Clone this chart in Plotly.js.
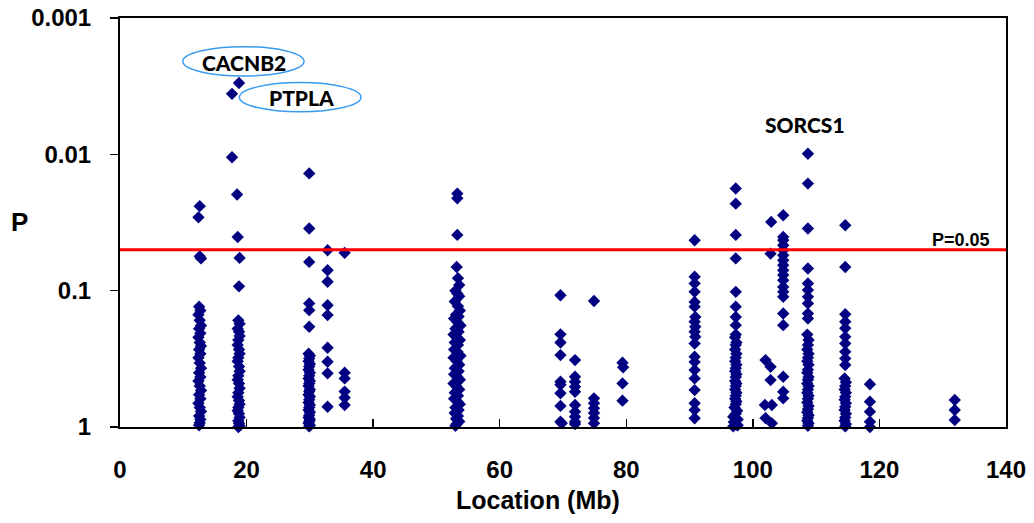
<!DOCTYPE html>
<html>
<head>
<meta charset="utf-8">
<script src="https://cdn.plot.ly/plotly-3.0.1.min.js"></script>
<style>html,body{margin:0;padding:0;background:#fff;}#chart{width:1034px;height:523px;}</style>
</head>
<body>
<div id="chart"></div>
<script>
// ---- Data: location (Mb) and P value per marker, grouped by region ----
const locA = [12.6,12.4,12.6,12.8,12.5,12.7,12.4,12.6,12.8,12.5,12.7,12.4,12.6,12.8,12.5,12.7,12.4,12.6,12.8,12.5,12.7,12.4,12.6,12.8,12.5,12.7,12.4,12.6,12.8,12.5,12.7,12.6,12.5];
const pA   = [0.024,0.029,0.056,0.058,0.131,0.14,0.15,0.165,0.18,0.19,0.205,0.22,0.24,0.255,0.27,0.29,0.31,0.34,0.37,0.4,0.43,0.46,0.5,0.54,0.58,0.62,0.67,0.72,0.77,0.83,0.88,0.93,0.97];

const locB = [18.8,17.7,17.7,18.5,18.6,18.9,18.8,18.7,18.9,18.6,18.8,18.9,18.7,18.6,18.8,18.9,18.7,18.6,18.8,18.9,18.7,18.6,18.8,18.9,18.7,18.6,18.8,18.9,18.7,18.6,18.8,18.9,18.7,18.8,18.9,18.7];
const pB   = [0.0030,0.0036,0.0105,0.0197,0.0404,0.0575,0.093,0.165,0.175,0.19,0.2,0.215,0.23,0.25,0.27,0.29,0.31,0.33,0.36,0.39,0.42,0.45,0.48,0.52,0.56,0.6,0.64,0.68,0.72,0.76,0.8,0.85,0.9,0.94,0.98,1.0];

const locC = [29.9,29.9,29.9,29.9,29.9,29.9,29.8,30.0,29.9,29.8,30.0,29.9,29.8,30.0,29.9,29.8,30.0,29.9,29.8,30.0,29.9,29.8,30.0,29.9,29.8,30.0,29.9,29.8,30.0,29.9,29.8,30.0,29.9,29.8,30.0,29.9];
const pC   = [0.0138,0.035,0.0615,0.124,0.139,0.184,0.29,0.3,0.315,0.33,0.345,0.36,0.38,0.4,0.42,0.44,0.46,0.48,0.5,0.53,0.55,0.58,0.6,0.63,0.66,0.69,0.72,0.75,0.78,0.82,0.85,0.88,0.91,0.94,0.97,0.99];

const locD = [32.8,32.8,32.8,32.8,32.8,32.8,32.8,32.8,32.8];
const pD   = [0.0505,0.0708,0.086,0.128,0.151,0.262,0.332,0.404,0.71];

const locE = [35.5,35.5,35.5,35.5,35.5,35.5];
const pE   = [0.0528,0.40,0.44,0.55,0.61,0.69];

const locF = [53.3,53.3,53.3,53.2,53.4,53.6,53.0,53.3,53.6,52.9,53.4,53.7,53.1,53.5,52.8,53.3,53.8,53.0,53.5,52.7,53.2,53.7,52.9,53.4,52.8,53.3,53.8,52.7,53.2,53.6,52.9,53.5,52.8,53.3,53.7,52.7,53.1,53.6,52.9,53.4,52.8,53.3,53.7,53.0,53.5,52.9,53.4,53.1,53.6,53.2,53.0];
const pF   = [0.0194,0.021,0.039,0.067,0.081,0.091,0.1,0.105,0.11,0.12,0.13,0.14,0.15,0.155,0.16,0.17,0.18,0.19,0.2,0.21,0.22,0.23,0.24,0.25,0.27,0.28,0.3,0.31,0.33,0.35,0.37,0.39,0.41,0.43,0.45,0.48,0.5,0.53,0.56,0.59,0.62,0.65,0.68,0.72,0.75,0.79,0.83,0.87,0.91,0.95,0.98];

const locG = [69.6,69.6,69.6,69.6,69.6,69.6,69.6,69.6,69.6,69.8];
const pG   = [0.108,0.209,0.24,0.297,0.466,0.49,0.566,0.70,0.915,0.94];

const locH = [71.9,71.9,71.9,71.9,71.9,71.9,71.9,71.9,71.9,71.9];
const pH   = [0.323,0.428,0.466,0.507,0.551,0.69,0.772,0.84,0.915,0.95];

const locI = [74.9,74.9,74.9,74.9,74.9,74.9,74.9];
const pI   = [0.119,0.616,0.67,0.73,0.79,0.86,0.94];

const locJ = [79.4,79.5,79.4,79.4];
const pJ   = [0.338,0.365,0.479,0.641];

const locK = [90.8,90.8,90.8,90.8,90.8,90.8,90.9,90.8,90.9,90.8,90.9,90.8,90.8,90.8,90.8,90.8,90.8,90.8,90.8,90.8];
const pK   = [0.0427,0.079,0.0885,0.102,0.121,0.131,0.156,0.169,0.184,0.2,0.218,0.244,0.305,0.333,0.382,0.44,0.536,0.67,0.75,0.863];

const locL = [97.3,97.3,97.3,97.3,97.3,97.3,97.3,97.3,97.3,97.2,97.4,97.3,97.2,97.4,97.3,97.2,97.4,97.3,97.2,97.4,97.3,97.2,97.4,97.3,97.2,97.4,97.3,97.2,97.4,97.3,97.1,97.5,97.3,96.9,97.6,97.0,97.4,96.9,97.6,97.2];
const pL   = [0.0178,0.023,0.039,0.058,0.102,0.131,0.156,0.179,0.21,0.22,0.24,0.25,0.27,0.29,0.31,0.33,0.35,0.37,0.39,0.41,0.43,0.46,0.48,0.5,0.53,0.56,0.59,0.62,0.65,0.68,0.72,0.76,0.8,0.84,0.88,0.92,0.96,0.99,0.97,0.94];

const locM = [102.9,102.8,102.0,102.8,102.8,101.9,103.0,102.0,103.0];
const pM   = [0.0313,0.0535,0.323,0.362,0.453,0.69,0.69,0.86,0.94];

const locN = [104.8,104.8,104.8,104.8,104.8,104.8,104.8,104.8,104.8,104.8,104.8,104.8,104.8,104.8,104.8,104.8,104.8,104.8,104.8];
const pN   = [0.028,0.0404,0.0427,0.0464,0.0505,0.055,0.0598,0.065,0.0708,0.0769,0.0838,0.0938,0.102,0.111,0.147,0.179,0.428,0.551,0.616];

const locO = [108.7,108.7,108.7,108.7,108.7,108.7,108.7,108.7,108.7,108.7,108.6,108.8,108.7,108.6,108.8,108.7,108.6,108.8,108.7,108.6,108.8,108.7,108.6,108.8,108.7,108.6,108.8,108.7,108.6,108.8,108.7,108.6,108.8,108.7,108.6,108.8,108.7];
const pO   = [0.0099,0.0164,0.035,0.0688,0.0886,0.099,0.111,0.124,0.147,0.16,0.21,0.23,0.25,0.27,0.29,0.31,0.33,0.35,0.38,0.4,0.43,0.45,0.48,0.5,0.53,0.56,0.59,0.62,0.66,0.7,0.74,0.78,0.82,0.86,0.9,0.94,0.98];

const locP = [114.6,114.6,114.6,114.6,114.6,114.6,114.6,114.6,114.6,114.6,114.5,114.7,114.6,114.5,114.7,114.6,114.5,114.7,114.6,114.5,114.7,114.6,114.5,114.7,114.6];
const pP   = [0.0331,0.067,0.149,0.169,0.189,0.218,0.244,0.281,0.314,0.351,0.44,0.47,0.5,0.53,0.56,0.6,0.63,0.67,0.71,0.75,0.8,0.85,0.9,0.95,0.99];

const locQ = [118.5,118.5,118.5,118.5,118.5];
const pQ   = [0.486,0.652,0.772,0.915,1.0];

const locR = [131.9,131.9,131.9];
const pR   = [0.634,0.751,0.889];

const thresholdP = 0.05;
const xRange = [0, 140];
const yTickVals = [1, 0.1, 0.01, 0.001];
const yTickText = ['1', '0.1', '0.01', '0.001'];
const xTickVals = [0, 20, 40, 60, 80, 100, 120, 140];

const locationMb = [].concat(locA,locB,locC,locD,locE,locF,locG,locH,locI,locJ,locK,locL,locM,locN,locO,locP,locQ,locR);
const pValue     = [].concat(pA,pB,pC,pD,pE,pF,pG,pH,pI,pJ,pK,pL,pM,pN,pO,pP,pQ,pR);

const arialBold = 'Liberation Sans, Arial, sans-serif';
const tickFont = {family: arialBold, size: 24, color: '#000', weight: 700};
const labelFont = {family: 'Lato, Open Sans, sans-serif', size: 21, color: '#000', weight: 900};

const traces = [
  {
    x: locationMb, y: pValue, type: 'scatter', mode: 'markers', cliponaxis: false,
    marker: {symbol: 'diamond', size: 9.5, color: '#000080', line: {width: 0}},
    hoverinfo: 'x+y'
  },
  {
    x: xRange, y: [thresholdP, thresholdP], type: 'scatter', mode: 'lines',
    line: {color: '#ff0000', width: 3}, hoverinfo: 'skip'
  }
];

const layout = {
  width: 1034, height: 523,
  margin: {l: 120, r: 28, t: 18, b: 96, pad: 0},
  paper_bgcolor: '#fff', plot_bgcolor: '#fff',
  showlegend: false,
  xaxis: {
    range: xRange, tickvals: xTickVals, ticks: 'inside', ticklen: 8, tickwidth: 1.5, tickcolor: '#000',
    showline: true, linecolor: '#000', linewidth: 2, mirror: true, showgrid: false, zeroline: false,
    tickfont: tickFont, ticklabelstandoff: 20, automargin: false
  },
  yaxis: {
    type: 'log', range: [0, -3], tickvals: yTickVals, ticktext: yTickText,
    ticks: 'outside', ticklen: 8, tickwidth: 1.5, tickcolor: '#000',
    showline: true, linecolor: '#000', linewidth: 2, mirror: true, showgrid: false, zeroline: false,
    tickfont: tickFont, ticklabelstandoff: 14, automargin: false
  },
  shapes: [
    {type: 'circle', xref: 'paper', yref: 'paper', x0: 0.0708, x1: 0.2077, y0: 0.858, y1: 0.930,
     line: {color: '#3a9bf0', width: 1.5}, fillcolor: 'rgba(0,0,0,0)'},
    {type: 'circle', xref: 'paper', yref: 'paper', x0: 0.1347, x1: 0.272, y0: 0.771, y1: 0.842,
     line: {color: '#3a9bf0', width: 1.5}, fillcolor: 'rgba(0,0,0,0)'}
  ],
  annotations: [
    {text: 'Location (Mb)', xref: 'paper', yref: 'paper', x: 0.4718, y: -0.1785, showarrow: false, xanchor: 'center', yanchor: 'middle',
     font: {family: arialBold, size: 25, color: '#000', weight: 700}},
    {text: 'P', xref: 'paper', yref: 'paper', x: -0.1129, y: 0.501, showarrow: false, xanchor: 'center', yanchor: 'middle',
     font: {family: arialBold, size: 26, color: '#000', weight: 700}},
    {text: 'CACNB2', xref: 'paper', yref: 'paper', x: 0.1394, y: 0.8924, showarrow: false, xanchor: 'center', yanchor: 'middle', font: labelFont},
    {text: 'PTPLA', xref: 'paper', yref: 'paper', x: 0.2043, y: 0.8068, showarrow: false, xanchor: 'center', yanchor: 'middle', font: labelFont},
    {text: 'SORCS1', xref: 'paper', yref: 'paper', x: 0.7731, y: 0.7408, showarrow: false, xanchor: 'center', yanchor: 'middle', font: labelFont},
    {text: 'P=0.05', xref: 'paper', yref: 'paper', x: 0.9492, y: 0.4572, showarrow: false, xanchor: 'center', yanchor: 'middle',
     font: {family: arialBold, size: 18, color: '#000', weight: 700}}
  ]
};

Plotly.newPlot('chart', traces, layout, {displayModeBar: false, staticPlot: true});
</script>
</body>
</html>
